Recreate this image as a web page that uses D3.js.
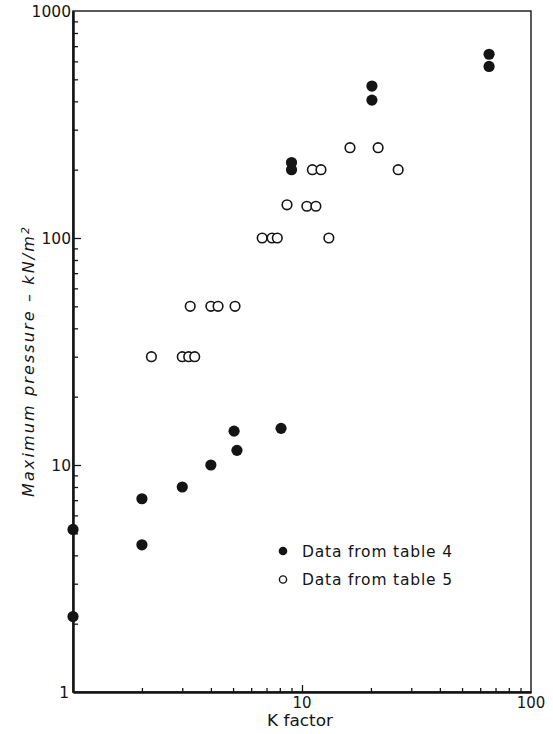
<!DOCTYPE html>
<html>
<head>
<meta charset="utf-8">
<script src="https://cdn.jsdelivr.net/npm/d3@7"></script>
<style>
    body { margin: 0; background: #fff; }
    text { font-family: "DejaVu Sans", sans-serif; fill: #141414; }
</style>
</head>
<body>
<div id="chart"></div>
<script>
'use strict';

// Data from table 4 (filled dots)
const table4K = [1, 1, 2, 2, 3, 4, 5.05, 5.2, 8.1, 9, 9, 20.2, 20.2, 65.6, 65.6];
const table4P = [5.2, 2.15, 7.1, 4.45, 8.0, 10, 14.1, 11.6, 14.5, 215, 200, 467, 405, 645, 570];

// Data from table 5 (open circles)
const table5K = [2.2, 3.0, 3.2, 3.4, 3.25, 4.0, 4.3, 5.1, 6.7, 7.4, 7.8, 13.1, 8.6, 10.5, 11.5, 11.1, 12.1, 16.2, 21.5, 26.3];
const table5P = [30, 30, 30, 30, 50, 50, 50, 50, 100, 100, 100, 100, 140, 138, 138, 200, 200, 250, 250, 200];

const xLabels = ['10', '100'];
const yLabels = ['1', '10', '100', '1000'];
const legendNames = ['Data from table 4', 'Data from table 5'];

const WIDTH = 553;
const HEIGHT = 734;
const margin = {top: 11, right: 22, bottom: 42, left: 73};

/**
 * Zips two value arrays into point objects.
 */
function toPoints(ks, ps) {
    return ks.map((k, i) => ({k: k, p: ps[i]}));
}

/**
 * Minor tick values of a log decade span.
 */
function minorTicks(from, to) {
    var resp = [];
    for (var d = from; d < to; d *= 10) {
        for (var m = 2; m <= 9; m++) resp.push(d * m);
    }
    return resp;
}

const svg = d3.select('#chart').append('svg')
    .attr('width', WIDTH)
    .attr('height', HEIGHT);

const x = d3.scaleLog().domain([1, 100]).range([margin.left, WIDTH - margin.right]);
const y = d3.scaleLog().domain([1, 1000]).range([HEIGHT - margin.bottom, margin.top]);

// frame: top and right borders
svg.append('rect')
    .attr('x', x(1)).attr('y', y(1000))
    .attr('width', x(100) - x(1)).attr('height', y(1) - y(1000))
    .attr('fill', 'none').attr('stroke', '#141414').attr('stroke-width', 1.4);

// bottom axis, ticks pointing in
const gx = svg.append('g').attr('transform', 'translate(0,' + y(1) + ')');
gx.call(d3.axisBottom(x).tickValues(minorTicks(1, 100)).tickSizeInner(-4).tickSizeOuter(0).tickFormat(''));
gx.call(g => g.append('g').call(d3.axisBottom(x).tickValues([10]).tickSizeInner(-7).tickSizeOuter(0).tickFormat('')));
gx.selectAll('path').attr('stroke-width', 2).attr('stroke', '#141414');
gx.selectAll('line').attr('stroke-width', 1.3).attr('stroke', '#141414');

// left axis, ticks pointing in
const gy = svg.append('g').attr('transform', 'translate(' + x(1) + ',0)');
gy.call(d3.axisLeft(y).tickValues(minorTicks(1, 1000)).tickSizeInner(-5).tickSizeOuter(0).tickFormat(''));
gy.call(g => g.append('g').call(d3.axisLeft(y).tickValues([10, 100]).tickSizeInner(-8).tickSizeOuter(0).tickFormat('')));
gy.selectAll('path').attr('stroke-width', 2).attr('stroke', '#141414');
gy.selectAll('line').attr('stroke-width', 1.3).attr('stroke', '#141414');

// tick labels
svg.append('g').selectAll('text')
    .data(yLabels)
    .enter().append('text')
    .attr('x', d => d === '1' ? x(1) - 4 : x(1) - 2)
    .attr('y', d => y(+d))
    .attr('dy', '0.36em')
    .attr('text-anchor', 'end')
    .style('font-size', '15.5px')
    .text(d => d);

svg.append('g').selectAll('text')
    .data(xLabels)
    .enter().append('text')
    .attr('x', d => x(+d))
    .attr('y', y(1) + 16)
    .attr('text-anchor', 'middle')
    .style('font-size', '15px')
    .text(d => d);

// axis titles
svg.append('text')
    .attr('x', x(10) - 2)
    .attr('y', y(1) + 34)
    .attr('text-anchor', 'middle')
    .style('font-size', '15px')
    .attr('textLength', 66)
    .attr('lengthAdjust', 'spacingAndGlyphs')
    .text('K factor');

const yTitle = svg.append('text')
    .attr('transform', 'translate(34,362) rotate(-90)')
    .attr('text-anchor', 'middle')
    .attr('textLength', 270)
    .attr('lengthAdjust', 'spacing')
    .style('font-size', '16px')
    .style('font-style', 'italic');
yTitle.append('tspan').text('Maximum pressure \u2013 kN/m');
yTitle.append('tspan').attr('dy', '-0.45em').style('font-size', '11px').text('2');

// points
svg.append('g').selectAll('circle')
    .data(toPoints(table5K, table5P))
    .enter().append('circle')
    .attr('cx', d => x(d.k))
    .attr('cy', d => y(d.p))
    .attr('r', 4.8)
    .attr('fill', '#fff')
    .attr('stroke', '#141414')
    .attr('stroke-width', 1.6);

svg.append('g').selectAll('circle')
    .data(toPoints(table4K, table4P))
    .enter().append('circle')
    .attr('cx', d => x(d.k))
    .attr('cy', d => y(d.p))
    .attr('r', 5.6)
    .attr('fill', '#141414');

// legend
const legend = svg.append('g').selectAll('g')
    .data(legendNames)
    .enter().append('g')
    .attr('transform', (d, i) => 'translate(283,' + (551 + i * 28.5) + ')');

legend.append('circle')
    .attr('r', d => d === legendNames[0] ? 4.3 : 3.6)
    .attr('fill', d => d === legendNames[0] ? '#141414' : '#fff')
    .attr('stroke', '#141414')
    .attr('stroke-width', d => d === legendNames[0] ? 0 : 1.4);

legend.append('text')
    .attr('x', 19)
    .attr('dy', '0.36em')
    .attr('textLength', 150)
    .attr('lengthAdjust', 'spacing')
    .style('font-size', '15.5px')
    .text(d => d);
</script>
</body>
</html>
